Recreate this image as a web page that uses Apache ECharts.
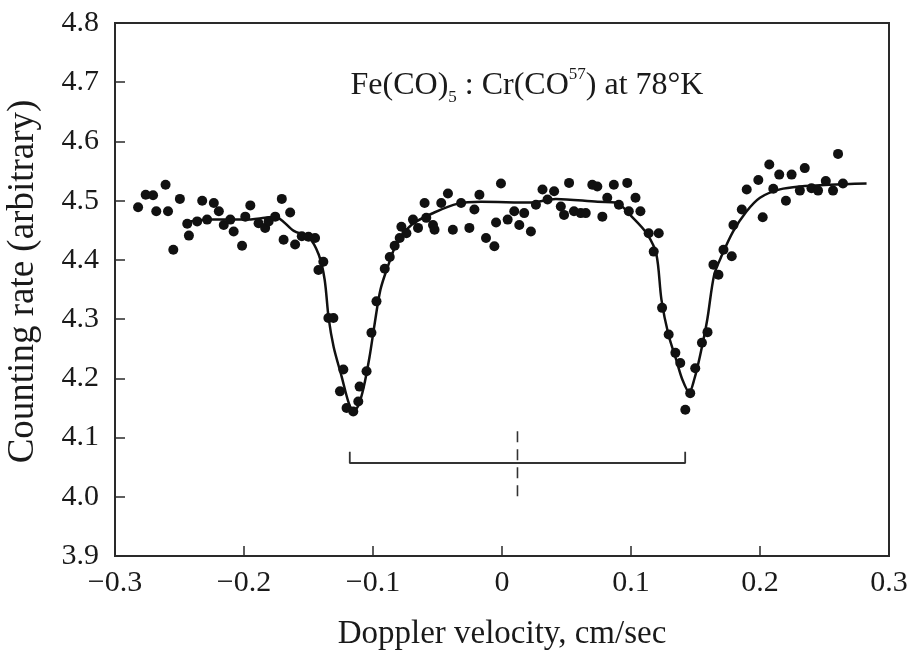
<!DOCTYPE html>
<html>
<head>
<meta charset="utf-8">
<script src="https://cdn.jsdelivr.net/npm/echarts@6/dist/echarts.min.js"></script>
<style>
html,body{margin:0;padding:0;background:#fff;}
#chart{width:913px;height:655px;}
</style>
</head>
<body>
<div id="chart"></div>
<script>
// Measured data points (Doppler velocity, counting rate)
const pointX = [
 -0.2821,-0.2762,-0.2705,-0.2608,-0.2680,-0.2589,-0.2548,-0.2497,-0.2440,-0.2427,
 -0.2363,-0.2324,-0.2286,-0.2234,-0.2195,-0.2157,-0.2106,-0.2080,-0.2015,-0.1990,
 -0.1951,-0.1887,-0.1836,-0.1809,-0.1758,-0.1707,-0.1642,-0.1693,-0.1604,-0.1552,
 -0.1500,-0.1449,-0.1423,-0.1385,-0.1346,-0.1307,-0.1256,-0.1230,-0.1205,-0.1153,
 -0.1114,-0.1104,-0.1050,-0.1012,-0.0973,-0.0909,-0.0870,-0.0832,-0.0793,-0.0780,
 -0.0741,-0.0690,-0.0651,-0.0600,-0.0587,-0.0535,-0.0523,-0.0471,-0.0419,-0.0381,
 -0.0317,-0.0253,-0.0214,-0.0175,-0.0124,-0.0059,-0.0046,-0.0008,0.0044,0.0095,
 0.0134,0.0172,0.0224,0.0263,0.0314,0.0353,0.0404,0.0456,0.0481,0.0520,
 0.0558,0.0610,0.0649,0.0700,0.0739,0.0778,0.0816,0.0867,0.0906,0.0971,
 0.0983,0.1035,0.1073,0.1137,0.1176,0.1215,0.1241,0.1292,0.1344,0.1382,
 0.1421,0.1459,0.1498,0.1550,0.1593,0.1639,0.1678,0.1717,0.1781,0.1794,
 0.1859,0.1897,0.1987,0.2021,0.2072,0.2103,0.2149,0.2201,0.2245,0.2309,
 0.2347,0.2399,0.2450,0.2510,0.2566,0.2605,0.2643
];
const pointY = [
 4.489,4.510,4.509,4.527,4.482,4.482,4.417,4.503,4.461,4.441,
 4.465,4.500,4.468,4.496,4.482,4.459,4.468,4.448,4.424,4.473,
 4.492,4.462,4.454,4.465,4.473,4.503,4.480,4.434,4.426,4.440,
 4.439,4.437,4.383,4.397,4.302,4.302,4.178,4.215,4.150,4.144,
 4.161,4.186,4.212,4.277,4.330,4.385,4.405,4.424,4.437,4.456,
 4.445,4.468,4.454,4.496,4.471,4.459,4.451,4.496,4.512,4.451,
 4.496,4.454,4.485,4.510,4.437,4.423,4.463,4.529,4.468,4.482,
 4.459,4.479,4.448,4.493,4.519,4.502,4.516,4.490,4.476,4.530,
 4.482,4.479,4.479,4.527,4.524,4.473,4.505,4.527,4.493,4.530,
 4.482,4.505,4.482,4.445,4.414,4.445,4.319,4.274,4.243,4.226,
 4.147,4.175,4.217,4.260,4.278,4.392,4.375,4.417,4.406,4.459,
 4.485,4.519,4.535,4.472,4.561,4.520,4.544,4.500,4.544,4.517,
 4.555,4.521,4.517,4.533,4.517,4.579,4.529
];
// Fitted curve
const fitX = [
 -0.2471,-0.2270,-0.1992,-0.1838,-0.1761,-0.1614,-0.1498,-0.1421,-0.1375,-0.1344,
 -0.1305,-0.1243,-0.1189,-0.1151,-0.1112,-0.1073,-0.1027,-0.0988,-0.0942,-0.0880,
 -0.0819,-0.0703,-0.0525,-0.0340,-0.0162,0.0224,0.0417,0.0741,0.0880,0.1019,
 0.1127,0.1197,0.1236,0.1290,0.1351,0.1398,0.1452,0.1490,0.1537,0.1591,
 0.1645,0.1707,0.1792,0.1892,0.2000,0.2154,0.2309,0.2541,0.2826
];
const fitY = [
 4.463,4.468,4.468,4.471,4.473,4.449,4.438,4.409,4.367,4.302,
 4.253,4.203,4.159,4.144,4.155,4.184,4.236,4.291,4.350,4.392,
 4.426,4.459,4.480,4.495,4.498,4.497,4.503,4.498,4.497,4.470,
 4.443,4.409,4.333,4.274,4.231,4.198,4.176,4.198,4.240,4.299,
 4.375,4.409,4.448,4.481,4.505,4.519,4.524,4.527,4.529
];
// Splitting bracket and centre marker
const bracketX = [-0.118, -0.118, 0.142, 0.142];
const bracketY = [4.076, 4.057, 4.057, 4.076];
const centreX = [0.012, 0.012];
const centreY = [4.001, 4.116];
// Tick labels
const xTickLabels = ['\u22120.3','\u22120.2','\u22120.1','0','0.1','0.2','0.3'];
const yTickLabels = ['3.9','4.0','4.1','4.2','4.3','4.4','4.5','4.6','4.7','4.8'];

const FONT = 'Liberation Serif';
const INK = '#1a1a1a';
const zip = (a, b) => a.map((v, i) => [v, b[i]]);

const chart = echarts.init(document.getElementById('chart'), null, {renderer: 'canvas'});
chart.setOption({
  backgroundColor: '#fff',
  animation: false,
  title: {
    left: 522, top: 61, textAlign: 'center',
    text: '{a|Fe(CO)}{sub|5}{a| : Cr(CO}{sup|57}{a|) at 78°K}',
    textStyle: {
      fontWeight: 'normal',
      rich: {
        a: {fontFamily: FONT, fontSize: 32, fontWeight: 'normal', color: INK, lineHeight: 40, verticalAlign: 'middle'},
        sub: {fontFamily: FONT, fontSize: 17, fontWeight: 'normal', color: INK, lineHeight: 40, verticalAlign: 'bottom'},
        sup: {fontFamily: FONT, fontSize: 17, fontWeight: 'normal', color: INK, lineHeight: 40, verticalAlign: 'top'}
      }
    }
  },
  grid: {left: 115, right: 24, top: 23, bottom: 99, outerBoundsMode: 'none', containLabel: false,
         show: true, borderColor: '#2a2a2a', borderWidth: 2},
  xAxis: {
    type: 'value', min: -0.3, max: 0.3, interval: 0.1,
    name: 'Doppler velocity, cm/sec', nameLocation: 'middle', nameGap: 62,
    nameTextStyle: {fontFamily: FONT, fontSize: 33, color: INK},
    axisLine: {show: true, onZero: false, lineStyle: {color: '#2a2a2a', width: 2}},
    axisTick: {show: true, inside: true, length: 10, lineStyle: {color: '#2a2a2a', width: 1.5}},
    splitLine: {show: false},
    axisLabel: {
      fontFamily: FONT, fontSize: 30, color: INK, margin: 12,
      formatter: v => xTickLabels[Math.round((v + 0.3) / 0.1)]
    }
  },
  yAxis: {
    type: 'value', min: 3.9, max: 4.8, interval: 0.1,
    name: 'Counting rate (arbitrary)', nameLocation: 'middle', nameGap: 73,
    nameTextStyle: {fontFamily: FONT, fontSize: 37, color: INK, padding: [0, 0, 0, 16]},
    axisLine: {show: true, onZero: false, lineStyle: {color: '#2a2a2a', width: 2}},
    axisTick: {show: true, inside: true, length: 10, lineStyle: {color: '#2a2a2a', width: 1.5}},
    splitLine: {show: false},
    axisLabel: {
      fontFamily: FONT, fontSize: 30, color: INK, margin: 16,
      formatter: v => yTickLabels[Math.round((v - 3.9) / 0.1)]
    }
  },
  series: [
    {
      type: 'line', data: zip(fitX, fitY), smooth: 0.3, symbol: 'none',
      lineStyle: {color: '#111', width: 2.5}, z: 2
    },
    {
      type: 'scatter', data: zip(pointX, pointY), symbol: 'circle', symbolSize: 10,
      itemStyle: {color: '#111', opacity: 1}, z: 3
    },
    {
      type: 'line', data: zip(bracketX, bracketY), symbol: 'none',
      lineStyle: {color: '#333', width: 1.8}, z: 1
    },
    {
      type: 'line', data: zip(centreX, centreY), symbol: 'none',
      lineStyle: {color: '#333', width: 1.6, type: [11, 7]}, z: 1
    }
  ]
});
</script>
</body>
</html>
